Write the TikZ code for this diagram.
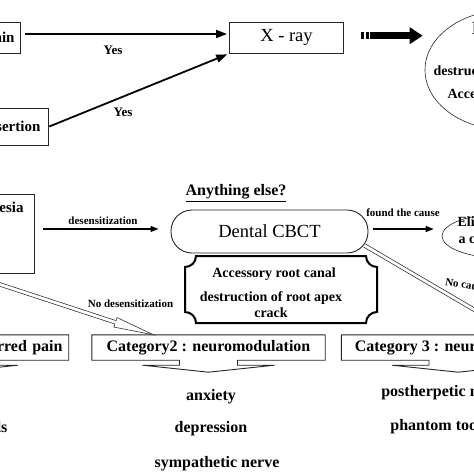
\documentclass[tikz,border=0pt]{standalone}
\usepackage{fontspec}
\setmainfont{Liberation Serif}
\usetikzlibrary{arrows.meta,calc,shapes.geometric}
\newcommand{\fntX}{\fontsize{18.5}{22}\selectfont}
\newcommand{\fntL}{\fontsize{16}{19}\selectfont\bfseries}
\newcommand{\fntB}{\fontsize{15}{18}\selectfont\bfseries}
\newcommand{\fntM}{\fontsize{14}{17}\selectfont\bfseries}
\newcommand{\fntY}{\fontsize{13}{15}\selectfont\bfseries}
\newcommand{\fntS}{\fontsize{11}{13}\selectfont\bfseries}
\newcommand{\hollowarrow}[2]{%
  \path (#1) coordinate (ha1) (#2) coordinate (ha2);
  \path ($(ha2)!40pt!(ha1)$) coordinate (hab);
  \draw[hollowline] ($(ha1)!1.8pt!90:(ha2)$) -- ($(hab)!1.8pt!-90:(ha1)$) -- ($(hab)!5pt!-90:(ha1)$) -- (ha2) -- ($(hab)!5pt!90:(ha1)$) -- ($(hab)!1.8pt!90:(ha1)$) -- ($(ha1)!1.8pt!-90:(ha2)$);
}
\newcommand{\calloutshape}[1]{%
  \draw[outline] (#1.north west) -- (#1.north east) -- (#1.south east) -- ($(#1.south)+(29,0)$) -- ($(#1.south)+(29,5)$) -- ($(#1.south)+(66,5)$) -- ($(#1.south)+(0,12)$) -- ($(#1.south)+(-66,5)$) -- ($(#1.south)+(-29,5)$) -- ($(#1.south)+(-29,0)$) -- (#1.south west) -- cycle;
}
\tikzset{
  box/.style={draw=black!85, line width=0.9pt, inner xsep=6pt, inner ysep=0pt, minimum height=31pt},
  outline/.style={draw=black!85, line width=0.9pt},
  plaqueline/.style={draw=black, line width=2pt},
  ell/.style={ellipse, draw=black!85, line width=0.6pt, inner sep=0pt},
  hollowline/.style={draw=black!80, line width=0.6pt, fill=white},
  yesarrow/.style={line width=1.8pt, -{Triangle[length=11pt,width=8pt]}},
  thinarrow/.style={line width=1.2pt, -{Triangle[length=8pt,width=6pt]}},
  bigarrow/.style={line width=7pt, -{Triangle[length=13pt,width=16pt]}, dash pattern=on 3.3pt off 1.7pt on 2.7pt off 1.3pt on 300pt off 1pt},
  cat/.style={font=\fntL, minimum width=233pt, minimum height=25pt, inner sep=0pt},
}
\begin{document}
\begin{tikzpicture}[x=1pt,y=-1pt]
\useasboundingbox (0,0) rectangle (474,474);
\clip (0,0) rectangle (474,474);
\fill[white] (0,0) rectangle (474,474);

% ---------- top row
\node[box, anchor=east, font=\fntB] (pain) at (21,37.5) {Pain};
\node[box, anchor=east, minimum height=37pt, inner xsep=8.5pt, font=\fntB] (insert) at (49.3,126.5) {Post insertion};
\node[box, minimum width=114pt, font=\fntX] (xray) at (286.5,37.7) {X - ray};
\node[ell, minimum width=164pt, minimum height=120pt] (bigell) at (507,70) {};
\node[font=\fntX, anchor=west] (bigt1) at (468,28) {Insufficient};
\node[font=\fntM, anchor=west] (bigt2) at (430,72) {destruction of root apex};
\node[font=\fntM, anchor=west] (bigt3) at (444,95) {Accessory root canal};

\draw[yesarrow, shorten <=4pt, shorten >=2pt] ($(pain.east)+(0,-3.5)$) -- ($(pain.east -| xray.west)+(0,-3.5)$);
\node[font=\fntY] (yes1) at (113,50) {Yes};
\draw[yesarrow, shorten >=2pt] (insert.east) -- (xray.south west);
\node[font=\fntY] (yes2) at (123,112) {Yes};
\draw[bigarrow, shorten <=17pt, shorten >=2pt] ($(xray.east)+(0,-2)$) -- ($(xray.east -| bigell.west)+(0,-2)$);

% ---------- middle row
\node[box, anchor=north east, text height=13.5pt, text depth=55.5pt, inner ysep=5pt, inner xsep=11pt, font=\fntB] (anest) at (35,194) {Anesthesia};
\node[font=\fntL] (anything) at (236,193) {\underline{Anything else?}};
\node[draw=black!85, line width=0.9pt, rounded corners=21pt, minimum width=197pt, minimum height=43pt, font=\fntX] (cbct) at (269.5,231.5) {Dental CBCT};
\node[ell, minimum width=120pt, minimum height=44pt] (elim) at (502,236) {};
\node[font=\fntM, anchor=west] (elimt1) at (454,222) {Eliminate};
\node[font=\fntM, anchor=west] (elimt2) at (455,240) {a cause};

\draw[thinarrow, shorten <=8pt, shorten >=12pt] ($(anest.east)+(0,-5)$) -- ($(anest.east -| cbct.west)+(0,-5)$);
\node[font=\fntS] (desl) at (103,221) {desensitization};
\draw[thinarrow, shorten <=5pt, shorten >=8pt] ($(cbct.east)+(0,-2.5)$) -- ($(cbct.east -| elim.west)+(0,-2.5)$);
\node[font=\fntS] (foundl) at (403,213) {found the cause};

% plaque box
\draw[plaqueline] (196,256) -- (366,256) arc[start angle=180,end angle=270,radius=11pt] -- (377,312) arc[start angle=90,end angle=180,radius=11pt] -- (196,323) arc[start angle=0,end angle=90,radius=11pt] -- (185,267) arc[start angle=270,end angle=360,radius=11pt] -- cycle;
\node[font=\fntM, anchor=base] (pl1) at (274,277) {Accessory root canal};
\node[font=\fntM, anchor=base] (pl2) at (271,301) {destruction of root apex};
\node[font=\fntM, anchor=base] (pl3) at (271,317) {crack};

% ---------- categories
\node[cat, text width=221pt, align=right] (cat1) at (-48,347.5) {Category1 : referred pain};
\calloutshape{cat1}
\node[cat] (cat2) at (208.5,347.5) {Category2 : neuromodulation};
\calloutshape{cat2}
\node[cat] (cat3) at (458,347.5) {Category 3 : neuropathic pain};
\calloutshape{cat3}

\hollowarrow{$(anest.south)+(-15,2)$}{$(cat2.north)+(-55,0)$}
\node[font=\fntS] (nodes) at (130.5,304) {No desensitization};
\hollowarrow{$(cbct.south east)+(-4,-8)$}{$(cat3.north)+(59,0)$}
\node[font=\fntS, anchor=west, rotate=-10] (nocause) at (442,281) {No cause};

% ---------- lists
\node[font=\fntL, anchor=east] (c1a) at (11,427) {blood vessels};
\node[font=\fntL] (c2a) at (211,397) {anxiety};
\node[font=\fntL] (c2b) at (211,429) {depression};
\node[font=\fntL] (c2c) at (217,464) {sympathetic nerve};
\node[font=\fntL] (c3a) at (458,393) {postherpetic neuralgia};
\node[font=\fntL] (c3b) at (458,427) {phantom tooth pain};
\end{tikzpicture}
\end{document}
